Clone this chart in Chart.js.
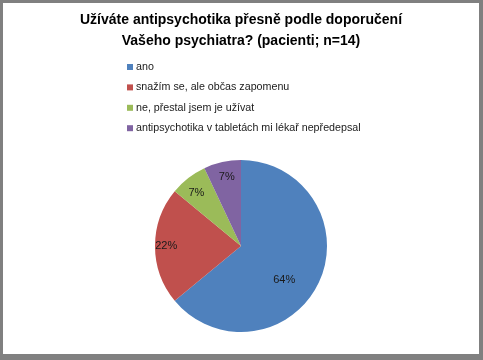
<!DOCTYPE html>
<html>
<head>
<meta charset="utf-8">
<script src="https://cdn.jsdelivr.net/npm/chart.js@4/dist/chart.umd.min.js"></script>
<style>
  html, body { margin: 0; padding: 0; background: #808080; }
  #box { position: absolute; left: 3px; top: 3px; width: 476px; height: 351px; background: #fff; }
</style>
</head>
<body>
<div id="box"><canvas id="pie" width="476" height="351"></canvas></div>
<script>
// Data
const categories = [
  "ano",
  "snažím se, ale občas zapomenu",
  "ne, přestal jsem je užívat",
  "antipsychotika v tabletách mi lékař nepředepsal"
];
const shares = [64, 22, 7, 7];
const colors = ["#4F81BD", "#C0504D", "#9BBB59", "#8064A2"];

// where each % label sits inside its slice (fraction of radius, angle nudge in degrees)
const labelSpots = [
  { r: 0.64, turn: 13 },
  { r: 0.87, turn: 0 },
  { r: 0.81, turn: -2 },
  { r: 0.82, turn: 1 }
];

const font = "'Liberation Sans', Arial, sans-serif";

// simple vertical legend on the left, like the original
const sideLegend = {
  id: "sideLegend",
  afterDraw(chart) {
    const ctx = chart.ctx;
    ctx.save();
    ctx.font = "10.7px " + font;
    ctx.textBaseline = "middle";
    chart.data.labels.forEach((lab, i) => {
      const y = 64 + i * 20.4;
      ctx.fillStyle = colors[i];
      ctx.fillRect(124, y - 3, 6, 6);
      ctx.fillStyle = "#1a1a1a";
      ctx.fillText(lab, 133, y);
    });
    ctx.restore();
  }
};

// percentage labels inside the slices
const sliceLabels = {
  id: "sliceLabels",
  afterDatasetsDraw(chart) {
    const ctx = chart.ctx;
    const meta = chart.getDatasetMeta(0);
    ctx.save();
    ctx.font = "11px " + font;
    ctx.fillStyle = "#1a1a1a";
    ctx.textAlign = "center";
    ctx.textBaseline = "middle";
    meta.data.forEach((arc, i) => {
      const p = arc.getProps(["x", "y", "startAngle", "endAngle", "outerRadius"], true);
      const a = (p.startAngle + p.endAngle) / 2 + labelSpots[i].turn * Math.PI / 180;
      const r = p.outerRadius * labelSpots[i].r;
      ctx.fillText(shares[i] + "%", p.x + Math.cos(a) * r, p.y + Math.sin(a) * r);
    });
    ctx.restore();
  }
};

new Chart(document.getElementById("pie"), {
  type: "pie",
  data: {
    labels: categories,
    datasets: [{
      data: shares,
      backgroundColor: colors,
      borderWidth: 0
    }]
  },
  options: {
    responsive: false,
    animation: false,
    layout: { padding: { bottom: 22 } },
    plugins: {
      legend: { display: false },
      tooltip: { enabled: false },
      title: {
        display: true,
        text: ["Užíváte antipsychotika přesně podle doporučení", "Vašeho psychiatra? (pacienti; n=14)"],
        color: "#000",
        font: { family: font, size: 14, weight: "bold", lineHeight: 1.5 },
        padding: { top: 7, bottom: 108 }
      }
    }
  },
  plugins: [sideLegend, sliceLabels]
});
</script>
</body>
</html>
